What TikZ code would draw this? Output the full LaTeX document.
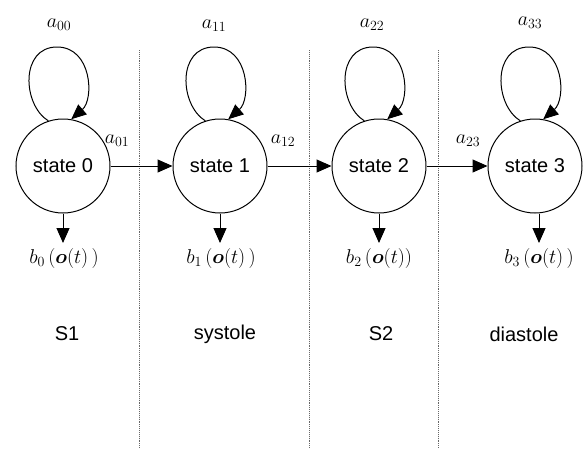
\RequirePackage{fix-cm}
\documentclass[tikz,border=0pt]{standalone}
\usepackage{amsmath,bm}
\usepackage[no-math]{fontspec}
\setmainfont{Liberation Sans}
\usetikzlibrary{arrows.meta,calc}
\begin{document}
\begin{tikzpicture}[x=1pt,y=-1pt,
  every node/.style={font=\fontsize{20}{24}\selectfont},
  st/.style={circle,draw,line width=1pt,minimum size=94pt,inner sep=0pt},
  arr/.style={line width=1pt,-{Triangle[length=15pt,width=13pt]}},
  sep/.style={line width=0.7pt,black!60,dash pattern=on 0.8pt off 1.1pt},
  lbl/.style={inner sep=0pt}]
\useasboundingbox (0,0) rectangle (586,448);
% separators
\draw[sep] (139.5,50) -- (139.5,448);
\draw[sep] (309,50) -- (309,448);
\draw[sep] (438,50) -- (438,448);
% states
\node[st] (s0) at (63,166) {state 0};
\node[st] (s1) at (220,166) {state 1};
\node[st] (s2) at (379,166) {state 2};
\node[st] (s3) at (535,166) {state 3};
% self loops
\foreach \s in {s0,s1,s2,s3}
  \draw[arr] (\s.108) .. controls +(-26,-16) and +(-37,0) .. ($(\s)+(-6,-119)$)
             .. controls +(35,0) and +(23,-20) .. (\s.80);
% transitions
\draw[arr] (s0) -- (s1);
\draw[arr] (s1) -- (s2);
\draw[arr] (s2) -- (s3);
% self-loop labels
\node[lbl] (a00) at (59,25) {$a_{00}$};
\node[lbl] (a11) at (214,26) {$a_{11}$};
\node[lbl] (a22) at (372,25) {$a_{22}$};
\node[lbl] (a33) at (530,23) {$a_{33}$};
% transition labels
\node[lbl] (a01) at (117,141) {$a_{01}$};
\node[lbl] (a12) at (283,141) {$a_{12}$};
\node[lbl] (a23) at (468,141) {$a_{23}$};
% emissions
\coordinate (t0) at (63,243);
\coordinate (t1) at (220,243);
\coordinate (t2) at (379,243);
\coordinate (t3) at (539,243);
\draw[arr] (s0.south) -- (t0);
\draw[arr] (s1.south) -- (t1);
\draw[arr] (s2.south) -- (t2);
\draw[arr] ($(s3.south)+(4,0)$) -- (t3);
\node[lbl] (b0) at (64,258) {$b_0\,(\bm{o}(t)\,)$};
\node[lbl] (b1) at (221,258) {$b_1\,(\bm{o}(t)\,)$};
\node[lbl] (b2) at (379,258) {$b_2\,(\bm{o}(t))$};
\node[lbl] (b3) at (539,258) {$b_3\,(\bm{o}(t)\,)$};
% phase labels
\node[lbl] (p0) at (67,334) {S1};
\node[lbl] (p1) at (225,334) {systole};
\node[lbl] (p2) at (381,334) {S2};
\node[lbl] (p3) at (524,334) {diastole};
\end{tikzpicture}
\end{document}
